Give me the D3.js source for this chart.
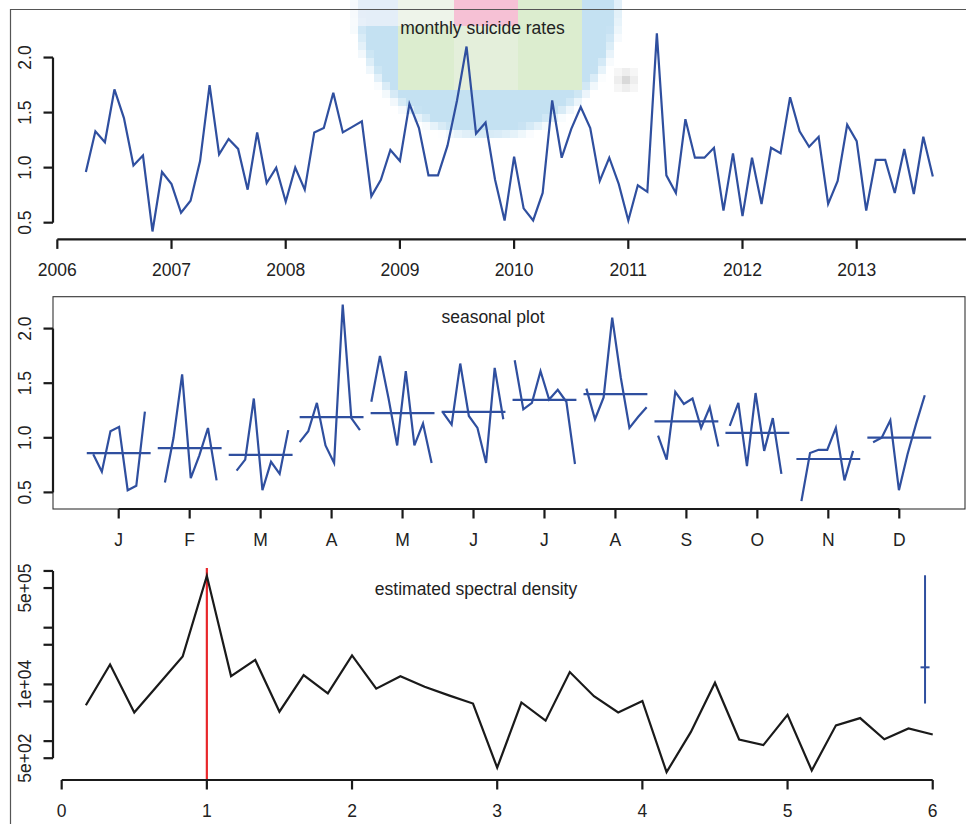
<!DOCTYPE html>
<html>
<head>
<meta charset="utf-8">
<script src="https://cdn.jsdelivr.net/npm/d3@7"></script>
<style>
  body { margin: 0; background: #fff; }
  svg { display: block; }
  text { font-family: "Liberation Sans", Arial, Helvetica, sans-serif; fill: #222; }
</style>
</head>
<body>
<svg id="chart" width="966" height="824"></svg>
<script>
// ---- data -----------------------------------------------------------
// Monthly suicide rates, April 2006 .. September 2013
const startYear = 2006;
const startMonth = 4;            // April
const rates = [
  0.96, 1.33, 1.23, 1.71, 1.45, 1.02, 1.11, 0.42, 0.96,                    // 2006 Apr-Dec
  0.85, 0.59, 0.70, 1.06, 1.75, 1.12, 1.26, 1.17, 0.80, 1.32, 0.86, 1.00,  // 2007
  0.69, 1.00, 0.80, 1.32, 1.36, 1.68, 1.32, 1.37, 1.42, 0.74, 0.89, 1.16,  // 2008
  1.06, 1.58, 1.36, 0.93, 0.93, 1.20, 1.61, 2.10, 1.31, 1.41, 0.89, 0.52,  // 2009
  1.10, 0.63, 0.52, 0.77, 1.61, 1.09, 1.35, 1.55, 1.36, 0.88, 1.09, 0.85,  // 2010
  0.52, 0.84, 0.78, 2.22, 0.93, 0.77, 1.44, 1.09, 1.09, 1.18, 0.61, 1.13,  // 2011
  0.56, 1.09, 0.67, 1.18, 1.13, 1.64, 1.33, 1.19, 1.28, 0.67, 0.88, 1.39,  // 2012
  1.24, 0.61, 1.07, 1.07, 0.77, 1.17, 0.76, 1.28, 0.92                     // 2013 Jan-Sep
];
const yearTicks = [2006, 2007, 2008, 2009, 2010, 2011, 2012, 2013];
const rateTicks = [0.5, 1.0, 1.5, 2.0];
const monthLabels = ["J", "F", "M", "A", "M", "J", "J", "A", "S", "O", "N", "D"];

// Periodogram estimate at frequencies k/6 cycles per year, k = 1..36
const specDensity = [
  4300, 22500, 3200, 10000, 31000, 820000, 14000, 27000, 3300, 14600,
  6950, 32500, 8400, 13900, 9100, 6400, 4600, 340, 4800, 2300,
  16500, 6200, 3200, 5100, 284, 1440, 10700, 1070, 850, 2900,
  304, 1900, 2550, 1080, 1670, 1310
];
const freqTicks = [0, 1, 2, 3, 4, 5, 6];
const specTicks = [500, 1000, 5000, 10000, 50000, 100000, 500000, 1000000];
const specTickLabels = { 500: "5e+02", 10000: "1e+04", 500000: "5e+05" };
const annualFreq = 1;
const ciFreq = 5.947, ciCenter = 20000, ciLow = 4600, ciHigh = 840000;

// ---- helpers --------------------------------------------------------
const svg = d3.select("#chart");
const BLUE = "#2f4f9f", INK = "#1a1a1a", RED = "#e8262a";
const FS = 17.5;
const pad = ([a, b]) => [a - 0.04 * (b - a), b + 0.04 * (b - a)];

const times = rates.map((_, i) => startYear + (startMonth - 1 + i) / 12);
const monthOf = i => (startMonth - 1 + i) % 12;          // 0 = January

// ---- soft mosaic badge behind the top title ---------------------------
(function drawBadge() {
  const g = svg.append("g");
  const cx = 487, cy = 5, r = 131, bs = 8;
  for (let x = 350; x < 630; x += bs) {
    for (let y = -6; y < 145; y += bs) {
      const mx = x + bs / 2, my = y + bs / 2;
      const d = Math.hypot(mx - cx, my - cy);
      const a = Math.max(0, Math.min(1, (r - d) / 12 + 0.5));
      if (a <= 0.02) continue;
      let col;
      if (my < 27 && mx > 454 && mx < 517) col = "#f6c1d5";
      else if (mx > 398 && mx < 582 && my < 93) {
        if (mx > 454 && mx < 517) col = "#e4efdb";
        else if (my < 27 && mx < 454) col = "#eef4ea";
        else col = "#dcedcf";
      } else if (my < 27 && mx < 398) col = "#e4eef8";
      else col = "#c4e1f2";
      g.append("rect").attr("x", x).attr("y", y).attr("width", bs).attr("height", bs)
        .attr("fill", col).attr("opacity", a);
    }
  }
  const gx = 626, gy = 80;
  [[-1, -1, "#f6f6f6"], [0, -1, "#eeeeee"], [1, -1, "#f6f6f6"],
   [-1, 0, "#eeeeee"], [0, 0, "#d9d9d9"], [1, 0, "#eeeeee"],
   [-1, 1, "#f6f6f6"], [0, 1, "#eeeeee"], [1, 1, "#f6f6f6"]].forEach(([i, j, c]) => {
    g.append("rect").attr("x", gx - 4 + i * 8).attr("y", gy - 4 + j * 8)
      .attr("width", 8).attr("height", 8).attr("fill", c);
  });
})();

// outer frame
svg.append("path").attr("d", "M10.5,824V9.5H966").attr("fill", "none")
  .attr("stroke", "#555").attr("stroke-width", 1.2);

function yAxis(scale, ticks, fmt, x = 53) {
  const g = svg.append("g").attr("stroke", INK).attr("stroke-width", 2.2);
  const ys = ticks.map(scale);
  g.append("line").attr("x1", x).attr("x2", x)
    .attr("y1", d3.min(ys)).attr("y2", d3.max(ys));
  ticks.forEach(t => {
    g.append("line").attr("x1", x).attr("x2", x - 9.5)
      .attr("y1", scale(t)).attr("y2", scale(t));
    const lab = fmt(t);
    if (lab) svg.append("text").attr("transform", `translate(31,${scale(t)}) rotate(-90)`)
      .attr("text-anchor", "middle").attr("font-size", FS).text(lab);
  });
}
function xAxis(scale, ticks, fmt, y, lineEnd) {
  const g = svg.append("g").attr("stroke", INK).attr("stroke-width", 2.2);
  const xs = ticks.map(scale);
  g.append("line").attr("y1", y).attr("y2", y)
    .attr("x1", d3.min(xs)).attr("x2", lineEnd !== undefined ? lineEnd : d3.max(xs));
  ticks.forEach((t, i) => {
    g.append("line").attr("y1", y).attr("y2", y + 9.5)
      .attr("x1", scale(t)).attr("x2", scale(t));
    svg.append("text").attr("x", scale(t)).attr("y", y + 36.5)
      .attr("text-anchor", "middle").attr("font-size", FS).text(fmt(t, i));
  });
}

// ---- panel 1: time series ----------------------------------------------
const x1 = d3.scaleLinear().domain(pad(d3.extent(times))).range([52, 966.7]);
const y1 = d3.scaleLinear().domain(pad(d3.extent(rates))).range([239.4, 25.4]);

svg.append("path").datum(rates)
  .attr("d", d3.line().x((d, i) => x1(times[i])).y(d => y1(d)))
  .attr("fill", "none").attr("stroke", BLUE).attr("stroke-width", 2.2)
  .attr("stroke-linejoin", "miter");
yAxis(y1, rateTicks, d => d.toFixed(1));
// the year axis runs on past the last labelled year to the right edge
xAxis(x1, yearTicks, d => String(d), 239.4, 966);
svg.append("text").attr("x", 482.5).attr("y", 34.3).attr("text-anchor", "middle")
  .attr("font-size", FS).text("monthly suicide rates");

// ---- panel 2: seasonal sub-series --------------------------------------
const x2 = d3.scaleLinear().domain(pad([0.55, 12.45])).range([53, 965]);
const y2 = d3.scaleLinear().domain(pad(d3.extent(rates))).range([509, 296.7]);
const tMin = d3.min(times), tMax = d3.max(times);

svg.append("rect").attr("x", 53).attr("y", 296.7).attr("width", 912).attr("height", 212.3)
  .attr("fill", "none").attr("stroke", "#333").attr("stroke-width", 1.1);

monthLabels.forEach((_, m) => {
  const idx = rates.map((_, i) => i).filter(i => monthOf(i) === m);
  const pts = idx.map(i => [m + 1 + 0.9 * (times[i] - tMin) / (tMax - tMin) - 0.45, rates[i]]);
  svg.append("path").datum(pts)
    .attr("d", d3.line().x(d => x2(d[0])).y(d => y2(d[1])))
    .attr("fill", "none").attr("stroke", BLUE).attr("stroke-width", 2.2);
  const avg = d3.mean(idx, i => rates[i]);
  svg.append("line").attr("x1", x2(m + 1 - 0.45)).attr("x2", x2(m + 1 + 0.45))
    .attr("y1", y2(avg)).attr("y2", y2(avg))
    .attr("stroke", BLUE).attr("stroke-width", 2.2);
});
yAxis(y2, rateTicks, d => d.toFixed(1));
xAxis(x2, d3.range(1, 13), (d, i) => monthLabels[i], 509);
svg.append("text").attr("x", 493).attr("y", 323.3).attr("text-anchor", "middle")
  .attr("font-size", FS).text("seasonal plot");

// ---- panel 3: spectral density -----------------------------------------
const freqs = specDensity.map((_, k) => (k + 1) / 6);
const x3 = d3.scaleLinear().domain(pad(d3.extent(freqs))).range([52, 966.6]);
const logExt = pad(d3.extent(specDensity).map(Math.log10));
const y3 = d3.scaleLog().domain(logExt.map(v => Math.pow(10, v))).range([780, 568]);

svg.append("line").attr("x1", x3(annualFreq)).attr("x2", x3(annualFreq))
  .attr("y1", 568).attr("y2", 780).attr("stroke", RED).attr("stroke-width", 2.2);
svg.append("path").datum(specDensity)
  .attr("d", d3.line().x((d, i) => x3(freqs[i])).y(d => y3(d)))
  .attr("fill", "none").attr("stroke", INK).attr("stroke-width", 2.2);
svg.append("line").attr("x1", x3(ciFreq)).attr("x2", x3(ciFreq))
  .attr("y1", y3(ciLow)).attr("y2", y3(ciHigh)).attr("stroke", BLUE).attr("stroke-width", 2);
svg.append("line").attr("x1", x3(ciFreq) - 4.5).attr("x2", x3(ciFreq) + 4.5)
  .attr("y1", y3(ciCenter)).attr("y2", y3(ciCenter)).attr("stroke", BLUE).attr("stroke-width", 2);
yAxis(y3, specTicks, d => specTickLabels[d] || "");
xAxis(x3, freqTicks, d => String(d), 780);
svg.append("text").attr("x", 476).attr("y", 595).attr("text-anchor", "middle")
  .attr("font-size", FS).text("estimated spectral density");
</script>
</body>
</html>
